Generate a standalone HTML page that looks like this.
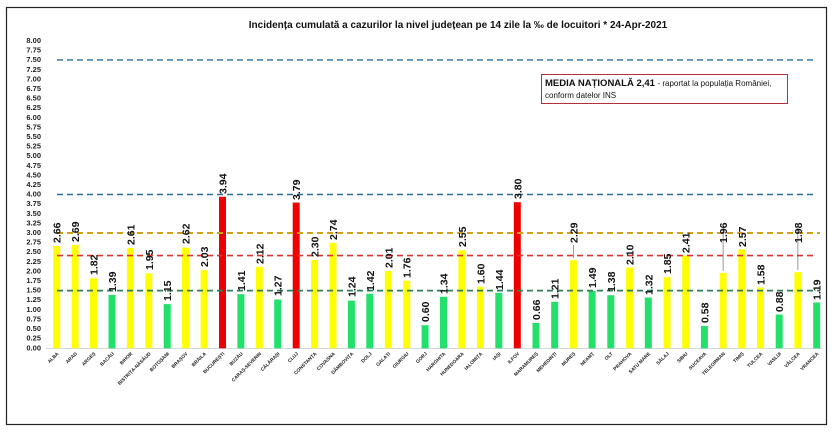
<!DOCTYPE html>
<html><head><meta charset="utf-8"><style>
html,body{margin:0;padding:0;background:#fff;}
svg{display:block;font-family:"Liberation Sans",sans-serif;}
.yt{font-size:7.5px;font-weight:bold;fill:#222;text-anchor:end;}
.vl{font-size:10.5px;font-weight:bold;fill:#111;}
.cl{font-size:4.8px;font-weight:bold;fill:#222;text-anchor:end;}
</style></head><body>
<svg width="834" height="446" viewBox="0 0 834 446">
<rect x="6.5" y="7.5" width="820" height="417" fill="#fff" stroke="#222" stroke-width="1.2"/>
<text x="458" y="28" font-size="10" font-weight="bold" text-anchor="middle" fill="#111">Incidența cumulată a cazurilor la nivel județean pe 14 zile la ‰ de locuitori *   24-Apr-2021</text>
<g class="yt">
<text x="41" y="43">8.00</text><text x="41" y="52.6">7.75</text><text x="41" y="62.2">7.50</text><text x="41" y="71.8">7.25</text><text x="41" y="81.4">7.00</text><text x="41" y="91.0">6.75</text><text x="41" y="100.6">6.50</text><text x="41" y="110.2">6.25</text><text x="41" y="119.8">6.00</text><text x="41" y="129.4">5.75</text><text x="41" y="139.0">5.50</text><text x="41" y="148.6">5.25</text><text x="41" y="158.2">5.00</text><text x="41" y="167.8">4.75</text><text x="41" y="177.4">4.50</text><text x="41" y="187.0">4.25</text><text x="41" y="196.6">4.00</text><text x="41" y="206.2">3.75</text><text x="41" y="215.8">3.50</text><text x="41" y="225.4">3.25</text><text x="41" y="235.0">3.00</text><text x="41" y="244.6">2.75</text><text x="41" y="254.2">2.50</text><text x="41" y="263.8">2.25</text><text x="41" y="273.4">2.00</text><text x="41" y="283.0">1.75</text><text x="41" y="292.6">1.50</text><text x="41" y="302.2">1.25</text><text x="41" y="311.8">1.00</text><text x="41" y="321.4">0.75</text><text x="41" y="331.0">0.50</text><text x="41" y="340.6">0.25</text><text x="41" y="350.6">0.00</text>
</g>
<line x1="46" y1="348.5" x2="822" y2="348.5" stroke="#cfd8dc" stroke-width="1"/>
<g>
<rect x="53.2" y="246.0" width="7" height="102.3" fill="#ffff00"/>
<rect x="71.6" y="244.9" width="7" height="103.4" fill="#ffff00"/>
<rect x="90.0" y="278.3" width="7" height="70.0" fill="#ffff00"/>
<rect x="108.5" y="294.9" width="7" height="53.4" fill="#22e06a"/>
<rect x="126.9" y="247.9" width="7" height="100.4" fill="#ffff00"/>
<rect x="145.3" y="273.3" width="7" height="75.0" fill="#ffff00"/>
<rect x="163.7" y="304.1" width="7" height="44.2" fill="#22e06a"/>
<rect x="182.1" y="247.6" width="7" height="100.7" fill="#ffff00"/>
<rect x="200.6" y="270.2" width="7" height="78.1" fill="#ffff00"/>
<rect x="219.0" y="196.8" width="7" height="151.5" fill="#ee0000"/>
<rect x="237.4" y="294.1" width="7" height="54.2" fill="#22e06a"/>
<rect x="255.8" y="266.8" width="7" height="81.5" fill="#ffff00"/>
<rect x="274.2" y="299.5" width="7" height="48.8" fill="#22e06a"/>
<rect x="292.7" y="202.6" width="7" height="145.7" fill="#ee0000"/>
<rect x="311.1" y="259.9" width="7" height="88.4" fill="#ffff00"/>
<rect x="329.5" y="242.9" width="7" height="105.4" fill="#ffff00"/>
<rect x="347.9" y="300.6" width="7" height="47.7" fill="#22e06a"/>
<rect x="366.3" y="293.7" width="7" height="54.6" fill="#22e06a"/>
<rect x="384.8" y="271.0" width="7" height="77.3" fill="#ffff00"/>
<rect x="403.2" y="280.6" width="7" height="67.7" fill="#ffff00"/>
<rect x="421.6" y="325.2" width="7" height="23.1" fill="#22e06a"/>
<rect x="440.0" y="296.8" width="7" height="51.5" fill="#22e06a"/>
<rect x="458.4" y="250.3" width="7" height="98.0" fill="#ffff00"/>
<rect x="476.9" y="286.8" width="7" height="61.5" fill="#ffff00"/>
<rect x="495.3" y="292.9" width="7" height="55.4" fill="#22e06a"/>
<rect x="513.8" y="202.2" width="7" height="146.1" fill="#ee0000"/>
<rect x="532.5" y="322.9" width="7" height="25.4" fill="#22e06a"/>
<rect x="551.2" y="301.8" width="7" height="46.5" fill="#22e06a"/>
<rect x="569.9" y="260.2" width="7" height="88.1" fill="#ffff00"/>
<rect x="588.6" y="291.0" width="7" height="57.3" fill="#22e06a"/>
<rect x="607.3" y="295.2" width="7" height="53.1" fill="#22e06a"/>
<rect x="626.1" y="267.6" width="7" height="80.7" fill="#ffff00"/>
<rect x="644.8" y="297.5" width="7" height="50.8" fill="#22e06a"/>
<rect x="663.5" y="277.2" width="7" height="71.1" fill="#ffff00"/>
<rect x="682.2" y="255.6" width="7" height="92.7" fill="#ffff00"/>
<rect x="700.9" y="326.0" width="7" height="22.3" fill="#22e06a"/>
<rect x="719.6" y="272.9" width="7" height="75.4" fill="#ffff00"/>
<rect x="738.3" y="249.5" width="7" height="98.8" fill="#ffff00"/>
<rect x="757.0" y="287.5" width="7" height="60.8" fill="#ffff00"/>
<rect x="775.7" y="314.5" width="7" height="33.8" fill="#22e06a"/>
<rect x="794.4" y="272.2" width="7" height="76.1" fill="#ffff00"/>
<rect x="813.2" y="302.5" width="7" height="45.8" fill="#22e06a"/>
</g>
<g fill="none" stroke-width="1.4" stroke-dasharray="6,4">
<line x1="57" y1="59.9" x2="814" y2="59.9" stroke="#2a6f9a"/>
<line x1="57" y1="194.5" x2="814" y2="194.5" stroke="#2a6f9a"/>
<line x1="57" y1="233.0" x2="820" y2="233.0" stroke="#d4a017" stroke-width="2"/>
<line x1="57" y1="255.6" x2="814" y2="255.6" stroke="#e03030" stroke-width="1.6"/>
<line x1="57" y1="290.6" x2="820" y2="290.6" stroke="#2f7f5a" stroke-width="1.8"/>
</g>
<g stroke="#555" stroke-width="0.6">
<line x1="573.4" y1="258" x2="573.4" y2="245"/>
<line x1="723.1" y1="271" x2="723.1" y2="228"/>
<line x1="797.9" y1="270" x2="797.9" y2="228"/>
</g>
<g class="vl">
<text transform="translate(60.7,243) rotate(-90)">2.66</text>
<text transform="translate(79.1,242) rotate(-90)">2.69</text>
<text transform="translate(97.5,275) rotate(-90)">1.82</text>
<text transform="translate(116,292) rotate(-90)">1.39</text>
<text transform="translate(134.4,245) rotate(-90)">2.61</text>
<text transform="translate(152.8,270) rotate(-90)">1.95</text>
<text transform="translate(171.2,301) rotate(-90)">1.15</text>
<text transform="translate(189.6,244) rotate(-90)">2.62</text>
<text transform="translate(208.1,267) rotate(-90)">2.03</text>
<text transform="translate(226.5,194) rotate(-90)">3.94</text>
<text transform="translate(244.9,291) rotate(-90)">1.41</text>
<text transform="translate(263.3,264) rotate(-90)">2.12</text>
<text transform="translate(281.7,296) rotate(-90)">1.27</text>
<text transform="translate(300.2,200) rotate(-90)">3.79</text>
<text transform="translate(318.6,257) rotate(-90)">2.30</text>
<text transform="translate(337,240) rotate(-90)">2.74</text>
<text transform="translate(355.4,297) rotate(-90)">1.24</text>
<text transform="translate(373.8,291) rotate(-90)">1.42</text>
<text transform="translate(392.3,268) rotate(-90)">2.01</text>
<text transform="translate(410.7,278) rotate(-90)">1.76</text>
<text transform="translate(429.1,322) rotate(-90)">0.60</text>
<text transform="translate(447.5,294) rotate(-90)">1.34</text>
<text transform="translate(465.9,247) rotate(-90)">2.55</text>
<text transform="translate(484.4,284) rotate(-90)">1.60</text>
<text transform="translate(502.8,290) rotate(-90)">1.44</text>
<text transform="translate(521.3,199) rotate(-90)">3.80</text>
<text transform="translate(540,320) rotate(-90)">0.66</text>
<text transform="translate(558.7,299) rotate(-90)">1.21</text>
<text transform="translate(577.4,243) rotate(-90)">2.29</text>
<text transform="translate(596.1,288) rotate(-90)">1.49</text>
<text transform="translate(614.8,292) rotate(-90)">1.38</text>
<text transform="translate(633.6,265) rotate(-90)">2.10</text>
<text transform="translate(652.3,295) rotate(-90)">1.32</text>
<text transform="translate(671,274) rotate(-90)">1.85</text>
<text transform="translate(689.7,253) rotate(-90)">2.41</text>
<text transform="translate(708.4,323) rotate(-90)">0.58</text>
<text transform="translate(727.1,243) rotate(-90)">1.96</text>
<text transform="translate(745.8,247) rotate(-90)">2.57</text>
<text transform="translate(764.5,285) rotate(-90)">1.58</text>
<text transform="translate(783.2,312) rotate(-90)">0.88</text>
<text transform="translate(801.9,243) rotate(-90)">1.98</text>
<text transform="translate(820.7,300) rotate(-90)">1.19</text>
</g>
<g class="cl">
<text transform="translate(59,354) rotate(-45)">ALBA</text>
<text transform="translate(77.4,354) rotate(-45)">ARAD</text>
<text transform="translate(95.8,354) rotate(-45)">ARGEȘ</text>
<text transform="translate(114.3,354) rotate(-45)">BACĂU</text>
<text transform="translate(132.7,354) rotate(-45)">BIHOR</text>
<text transform="translate(151.1,354) rotate(-45)">BISTRIȚA-NĂSĂUD</text>
<text transform="translate(169.5,354) rotate(-45)">BOTOȘANI</text>
<text transform="translate(187.9,354) rotate(-45)">BRAȘOV</text>
<text transform="translate(206.4,354) rotate(-45)">BRĂILA</text>
<text transform="translate(224.8,354) rotate(-45)">BUCUREȘTI</text>
<text transform="translate(243.2,354) rotate(-45)">BUZĂU</text>
<text transform="translate(261.6,354) rotate(-45)">CARAȘ-SEVERIN</text>
<text transform="translate(280,354) rotate(-45)">CĂLĂRAȘI</text>
<text transform="translate(298.5,354) rotate(-45)">CLUJ</text>
<text transform="translate(316.9,354) rotate(-45)">CONSTANȚA</text>
<text transform="translate(335.3,354) rotate(-45)">COVASNA</text>
<text transform="translate(353.7,354) rotate(-45)">DÂMBOVIȚA</text>
<text transform="translate(372.1,354) rotate(-45)">DOLJ</text>
<text transform="translate(390.6,354) rotate(-45)">GALAȚI</text>
<text transform="translate(409,354) rotate(-45)">GIURGIU</text>
<text transform="translate(427.4,354) rotate(-45)">GORJ</text>
<text transform="translate(445.8,354) rotate(-45)">HARGHITA</text>
<text transform="translate(464.2,354) rotate(-45)">HUNEDOARA</text>
<text transform="translate(482.7,354) rotate(-45)">IALOMIȚA</text>
<text transform="translate(501.1,354) rotate(-45)">IAȘI</text>
<text transform="translate(519.6,354) rotate(-45)">ILFOV</text>
<text transform="translate(538.3,354) rotate(-45)">MARAMUREȘ</text>
<text transform="translate(557,354) rotate(-45)">MEHEDINȚI</text>
<text transform="translate(575.7,354) rotate(-45)">MUREȘ</text>
<text transform="translate(594.4,354) rotate(-45)">NEAMȚ</text>
<text transform="translate(613.1,354) rotate(-45)">OLT</text>
<text transform="translate(631.9,354) rotate(-45)">PRAHOVA</text>
<text transform="translate(650.6,354) rotate(-45)">SATU MARE</text>
<text transform="translate(669.3,354) rotate(-45)">SĂLAJ</text>
<text transform="translate(688,354) rotate(-45)">SIBIU</text>
<text transform="translate(706.7,354) rotate(-45)">SUCEAVA</text>
<text transform="translate(725.4,354) rotate(-45)">TELEORMAN</text>
<text transform="translate(744.1,354) rotate(-45)">TIMIȘ</text>
<text transform="translate(762.8,354) rotate(-45)">TULCEA</text>
<text transform="translate(781.5,354) rotate(-45)">VASLUI</text>
<text transform="translate(800.2,354) rotate(-45)">VÂLCEA</text>
<text transform="translate(819,354) rotate(-45)">VRANCEA</text>
</g>
<rect x="541.5" y="74.5" width="246" height="29" fill="#fff" stroke="#b03040" stroke-width="1"/>
<text x="545" y="86" font-size="9" fill="#111"><tspan font-weight="bold" font-size="9.5">MEDIA NAȚIONALĂ  2,41</tspan> <tspan font-size="8">- raportat la populația României,</tspan></text>
<text x="545" y="98" font-size="8" fill="#111">conform datelor INS</text>
</svg>
</body></html>
